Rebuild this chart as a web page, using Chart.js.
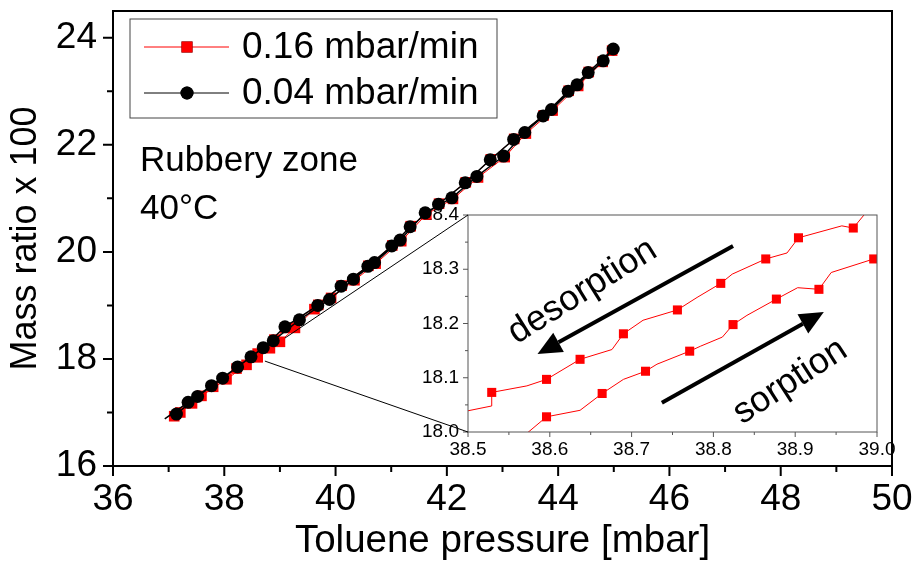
<!DOCTYPE html>
<html>
<body style="margin: 0; background: #fff">
<div style="position: relative; width: 916px; height: 566px">
  <canvas id="inset" width="490" height="285" style="position: absolute; left: 410px; top: 195px"></canvas>
  <canvas id="main" width="916" height="566" style="position: absolute; left: 0; top: 0"></canvas>
</div>

<script src="https://cdn.jsdelivr.net/npm/chart.js"></script>
<script>
// 0.04 mbar/min run: sorption going up, desorption coming back down
const slowUpX = [37.14, 37.52, 37.97, 38.48, 38.88, 39.35, 39.89, 40.32, 40.70, 41.16, 41.61, 42.09, 42.54, 43.02, 43.40, 43.88, 44.34, 44.81, 44.99];
const slowUpY = [16.97, 17.30, 17.64, 18.04, 18.34, 18.73, 19.11, 19.49, 19.80, 20.22, 20.73, 21.01, 21.41, 21.79, 22.23, 22.66, 23.12, 23.57, 23.79];
const slowDownX = [44.54, 44.18, 43.73, 43.20, 42.78, 42.33, 41.85, 41.34, 41.01, 40.58, 40.10, 39.68, 39.09, 38.70, 38.24, 37.77, 37.35, 36.93];
const slowDownY = [23.35, 23.00, 22.54, 22.10, 21.72, 21.29, 20.89, 20.47, 20.11, 19.73, 19.36, 19.00, 18.60, 18.21, 17.85, 17.50, 17.19, 16.88];

// 0.16 mbar/min run
const fastUpX = [37.21, 37.59, 38.04, 38.40, 38.60, 38.82, 39.00, 39.27, 39.62, 39.92, 40.34, 40.72, 41.18, 41.63, 42.11, 42.56, 43.04, 43.42, 43.90, 44.36, 44.80, 44.97];
const fastUpY = [17.00, 17.31, 17.62, 17.89, 18.03, 18.20, 18.32, 18.58, 18.93, 19.14, 19.47, 19.78, 20.20, 20.70, 20.99, 21.39, 21.77, 22.21, 22.64, 23.10, 23.55, 23.76];
const fastDownX = [44.55, 44.19, 43.74, 43.21, 42.79, 42.34, 41.86, 41.35, 41.02, 40.59, 40.11, 39.69, 39.10, 38.90, 38.60, 38.22, 37.80, 37.42, 37.10];
const fastDownY = [23.36, 23.01, 22.55, 22.11, 21.73, 21.30, 20.90, 20.48, 20.12, 19.74, 19.37, 19.01, 18.58, 18.36, 18.10, 17.82, 17.48, 17.17, 16.93];

// zoom on the 0.16 mbar/min loop: marked readings and the recorded points between them
const desMarkX = [38.529, 38.596, 38.637, 38.690, 38.756, 38.809, 38.864, 38.904, 38.971];
const desMarkY = [18.073, 18.097, 18.134, 18.181, 18.225, 18.274, 18.319, 18.358, 18.376];
const desMidX = [38.480, 38.529, 38.572, 38.676, 38.714, 38.780, 38.823, 38.890, 38.957, 38.995];
const desMidY = [18.033, 18.048, 18.085, 18.152, 18.206, 18.248, 18.291, 18.330, 18.380, 18.420];
const sorMarkX = [38.596, 38.664, 38.717, 38.771, 38.824, 38.877, 38.929, 38.996];
const sorMarkY = [18.028, 18.071, 18.112, 18.149, 18.198, 18.245, 18.263, 18.319];
const sorMidX = [38.566, 38.637, 38.690, 38.731, 38.784, 38.811, 38.841, 38.903, 38.944, 39.030];
const sorMidY = [17.990, 18.040, 18.097, 18.125, 18.158, 18.175, 18.215, 18.266, 18.294, 18.330];

const xTicks = [36, 38, 40, 42, 44, 46, 48, 50];
const xMinor = [37, 39, 41, 43, 45, 47, 49];
const yTicks = [16, 18, 20, 22, 24];
const yMinor = [17, 19, 21, 23];
const zxTicks = [38.5, 38.6, 38.7, 38.8, 38.9, 39.0];
const zxMinor = [38.55, 38.65, 38.75, 38.85, 38.95];
const zyTicks = [18.0, 18.1, 18.2, 18.3, 18.4];
const zyMinor = [18.05, 18.15, 18.25, 18.35];

const seriesNames = ['0.16 mbar/min', '0.04 mbar/min'];
const RED = '#ff0000';
const FONT = "'Liberation Sans', Arial, Helvetica, sans-serif";

Chart.defaults.font.family = FONT;
Chart.defaults.color = '#000';

const pts = (xs, ys) => xs.map((x, i) => ({x, y: ys[i]}));
const trace = (mx, my, ix, iy) =>
  pts(mx, my).concat(pts(ix, iy)).sort((a, b) => a.x - b.x || a.y - b.y);

// keep the plot area exactly where the layout padding puts it
const noOverhangY = s => { s.paddingTop = 0; s.paddingBottom = 0; };
const noOverhangX = s => { s.paddingLeft = 0; s.paddingRight = 0; };

// frame with outward major/minor ticks
function drawFrame(chart, o) {
  const {ctx, chartArea: a, scales: {x, y}} = chart;
  ctx.save();
  ctx.strokeStyle = o.color;
  ctx.lineWidth = o.width;
  ctx.strokeRect(a.left, a.top, a.right - a.left, a.bottom - a.top);
  ctx.beginPath();
  const tick = (vals, len, horiz) => vals.forEach(v => {
    if (horiz) {
      const p = x.getPixelForValue(v);
      ctx.moveTo(p, a.bottom); ctx.lineTo(p, a.bottom + len);
    } else {
      const p = y.getPixelForValue(v);
      ctx.moveTo(a.left, p); ctx.lineTo(a.left - len, p);
    }
  });
  tick(o.xMajor, o.major, true);
  tick(o.xMinor, o.minor, true);
  tick(o.yMajor, o.major, false);
  tick(o.yMinor, o.minor, false);
  ctx.stroke();
  ctx.restore();
}

function arrow(ctx, x0, y0, x1, y1) {
  const ang = Math.atan2(y1 - y0, x1 - x0);
  const head = 24, half = 11;
  const bx = x1 - head * Math.cos(ang), by = y1 - head * Math.sin(ang);
  ctx.beginPath();
  ctx.moveTo(x0, y0);
  ctx.lineTo(bx, by);
  ctx.stroke();
  ctx.beginPath();
  ctx.moveTo(x1, y1);
  ctx.lineTo(bx + half * Math.sin(ang), by - half * Math.cos(ang));
  ctx.lineTo(bx - half * Math.sin(ang), by + half * Math.cos(ang));
  ctx.closePath();
  ctx.fill();
}

function rotatedText(ctx, text, px, py, deg) {
  ctx.save();
  ctx.translate(px, py);
  ctx.rotate(deg * Math.PI / 180);
  ctx.fillText(text, 0, 0);
  ctx.restore();
}

const insetDecor = {
  id: 'insetDecor',
  afterDraw(chart) {
    drawFrame(chart, {color: '#555', width: 1, major: 5, minor: 3,
      xMajor: zxTicks, xMinor: zxMinor, yMajor: zyTicks, yMinor: zyMinor});
    const {ctx, scales: {x, y}} = chart;
    ctx.save();
    ctx.fillStyle = '#000';
    ctx.strokeStyle = '#000';
    ctx.lineWidth = 4;
    arrow(ctx, x.getPixelForValue(38.824), y.getPixelForValue(18.343),
               x.getPixelForValue(38.585), y.getPixelForValue(18.144));
    arrow(ctx, x.getPixelForValue(38.737), y.getPixelForValue(18.054),
               x.getPixelForValue(38.935), y.getPixelForValue(18.221));
    ctx.font = '36px ' + FONT;
    ctx.textAlign = 'center';
    ctx.textBaseline = 'middle';
    rotatedText(ctx, 'desorption', x.getPixelForValue(38.640), y.getPixelForValue(18.259), -32);
    rotatedText(ctx, 'sorption', x.getPixelForValue(38.894), y.getPixelForValue(18.093), -33);
    ctx.restore();
  }
};

const insetChart = new Chart(document.getElementById('inset'), {
  type: 'line',
  data: {
    datasets: [
      {data: trace(desMarkX, desMarkY, desMidX, desMidY), borderColor: RED, borderWidth: 1, pointRadius: 0},
      {data: trace(sorMarkX, sorMarkY, sorMidX, sorMidY), borderColor: RED, borderWidth: 1, pointRadius: 0},
      {data: pts(desMarkX, desMarkY), showLine: false, pointStyle: 'rect', pointRadius: 6.4,
       pointBackgroundColor: RED, pointBorderWidth: 0},
      {data: pts(sorMarkX, sorMarkY), showLine: false, pointStyle: 'rect', pointRadius: 6.4,
       pointBackgroundColor: RED, pointBorderWidth: 0}
    ]
  },
  options: {
    animation: false,
    responsive: false,
    layout: {padding: {top: 20, right: 23}},
    plugins: {legend: {display: false}, tooltip: {enabled: false}},
    scales: {
      x: {
        type: 'linear', min: 38.5, max: 39.0,
        afterBuildTicks: s => { s.ticks = zxTicks.map(v => ({value: v})); },
        afterFit: s => { s.height = 48; noOverhangX(s); },
        grid: {drawOnChartArea: false, drawTicks: false},
        border: {display: false},
        ticks: {font: {size: 19}, padding: 6, maxRotation: 0, callback: v => v.toFixed(1)}
      },
      y: {
        type: 'linear', min: 18.0, max: 18.4,
        afterBuildTicks: s => { s.ticks = zyTicks.map(v => ({value: v})); },
        afterFit: s => { s.width = 58; noOverhangY(s); },
        grid: {drawOnChartArea: false, drawTicks: false},
        border: {display: false},
        ticks: {font: {size: 19}, padding: 9, callback: v => v.toFixed(1)}
      }
    }
  },
  plugins: [insetDecor]
});

// legend entries, listed as in the key: fast run first
const legendMarks = [
  {pointStyle: 'rect', radius: 7.8, color: RED},
  {pointStyle: 'circle', radius: 6.5, color: '#000'}
];

const mainDecor = {
  id: 'mainDecor',
  afterDraw(chart) {
    drawFrame(chart, {color: '#000', width: 2, major: 10, minor: 6,
      xMajor: xTicks, xMinor: xMinor, yMajor: yTicks, yMinor: yMinor});
    const {ctx, chartArea: a, scales: {x, y}} = chart;
    ctx.save();

    // connectors from the zoomed spot on the curve to the inset corners
    const el = insetChart.canvas, ia = insetChart.chartArea;
    ctx.strokeStyle = '#000';
    ctx.lineWidth = 1;
    ctx.beginPath();
    ctx.moveTo(x.getPixelForValue(39.09), y.getPixelForValue(18.39));
    ctx.lineTo(el.offsetLeft + ia.left, el.offsetTop + ia.top);
    ctx.moveTo(x.getPixelForValue(38.73), y.getPixelForValue(17.96));
    ctx.lineTo(el.offsetLeft + ia.left, el.offsetTop + ia.bottom);
    ctx.stroke();

    // legend box
    const lx = a.left + 17, ly = a.top + 8;
    ctx.strokeStyle = '#444';
    ctx.strokeRect(lx, ly, 367, 99);
    ctx.font = '37px ' + FONT;
    ctx.textBaseline = 'middle';
    legendMarks.forEach((m, i) => {
      const cy = ly + 28 + i * 46;
      ctx.strokeStyle = m.color;
      ctx.lineWidth = 1;
      ctx.beginPath();
      ctx.moveTo(lx + 14, cy);
      ctx.lineTo(lx + 99, cy);
      ctx.stroke();
      Chart.helpers.drawPoint(ctx, {pointStyle: m.pointStyle, radius: m.radius, borderWidth: 0},
        lx + 57, cy);
      ctx.fillStyle = m.color;
      ctx.fill();
      ctx.fillStyle = '#000';
      ctx.fillText(seriesNames[i], lx + 112, cy + 1);
    });

    ctx.font = '35px ' + FONT;
    ctx.fillText('Rubbery zone', a.left + 27, a.top + 150);
    ctx.fillText('40°C', a.left + 27, a.top + 198);
    ctx.restore();
  }
};

const lastSlow = slowUpX.length + slowDownX.length - 1;

new Chart(document.getElementById('main'), {
  type: 'line',
  data: {
    datasets: [
      {
        label: seriesNames[1],
        data: pts(slowUpX.concat(slowDownX), slowUpY.concat(slowDownY)),
        borderColor: '#000', borderWidth: 1.5,
        pointStyle: 'circle',
        pointRadius: c => (c.dataIndex === lastSlow ? 0 : 6.5),
        pointBackgroundColor: '#000', pointBorderWidth: 0
      },
      {
        label: seriesNames[0],
        data: pts(fastUpX.concat(fastDownX), fastUpY.concat(fastDownY)),
        borderColor: RED, borderWidth: 1,
        pointStyle: 'rect', pointRadius: 7.5,
        pointBackgroundColor: RED, pointBorderWidth: 0
      }
    ]
  },
  options: {
    animation: false,
    responsive: false,
    layout: {padding: {top: 11, right: 24}},
    plugins: {legend: {display: false}, tooltip: {enabled: false}},
    scales: {
      x: {
        type: 'linear', min: 36, max: 50,
        afterBuildTicks: s => { s.ticks = xTicks.map(v => ({value: v})); },
        afterFit: s => { s.height = 100; noOverhangX(s); },
        grid: {drawOnChartArea: false, drawTicks: false},
        border: {display: false},
        ticks: {font: {size: 37}, padding: 12, maxRotation: 0},
        title: {display: true, text: 'Toluene pressure [mbar]', font: {size: 38.5}, padding: {top: 0, bottom: 2}}
      },
      y: {
        type: 'linear', min: 16, max: 24.5,
        afterBuildTicks: s => { s.ticks = yTicks.map(v => ({value: v})); },
        afterFit: s => { s.width = 113; noOverhangY(s); },
        grid: {drawOnChartArea: false, drawTicks: false},
        border: {display: false},
        ticks: {font: {size: 37}, padding: 16},
        title: {display: true, text: 'Mass ratio x 100', font: {size: 36}, padding: {top: 4, bottom: 0}}
      }
    }
  },
  plugins: [mainDecor]
});
</script>
</body>
</html>
